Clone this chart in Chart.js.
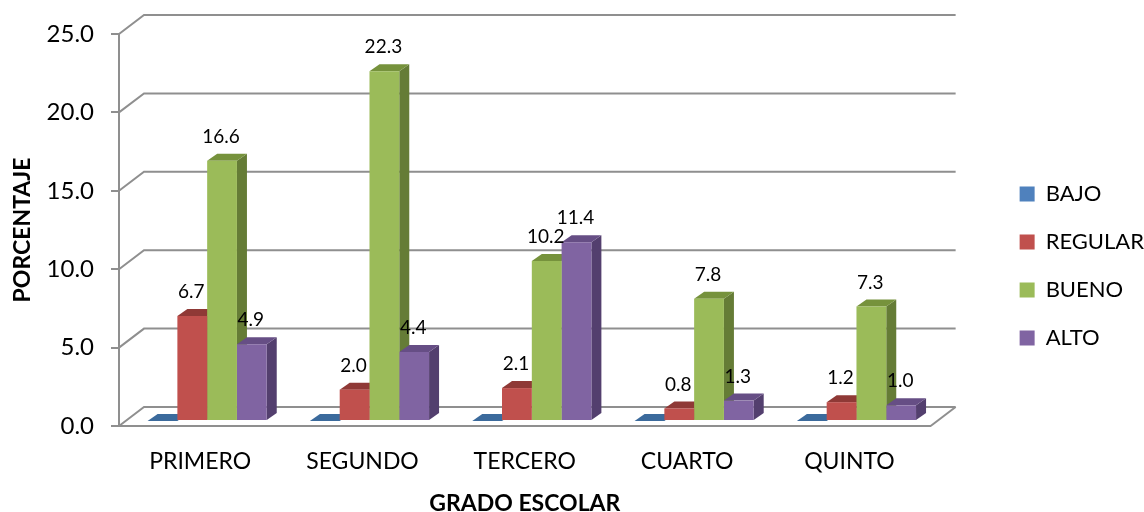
<!DOCTYPE html>
<html>
<head>
<meta charset="utf-8">
<title>Grado escolar</title>
<script src="https://cdn.jsdelivr.net/npm/chart.js@4/dist/chart.umd.js"></script>
<style>
  html, body { margin: 0; background: #fff; }
  canvas { display: block; }
</style>
</head>
<body>
<canvas id="chart" width="1144" height="512"></canvas>
<script>
const categories = ['PRIMERO', 'SEGUNDO', 'TERCERO', 'CUARTO', 'QUINTO'];
const bajo = [0, 0, 0, 0, 0];
const regular = [6.7, 2.0, 2.1, 0.8, 1.2];
const bueno = [16.6, 22.3, 10.2, 7.8, 7.3];
const alto = [4.9, 4.4, 11.4, 1.3, 1.0];

const FONT = 'Lato';
const GRID = '#8f8f8f';

// 3d look of the old office chart: floor depth and bar depth
const DEPTH_X = 25, DEPTH_Y = 19;
const BAR_SHIFT_X = 7, BAR_SHIFT_Y = -5;
const BAR_DX = 10, BAR_DY = 7;

const shades = [
  { top: '#3b6a9c', side: '#335c88' },
  { top: '#8f3936', side: '#7d322f' },
  { top: '#76923c', side: '#657c36' },
  { top: '#664e85', side: '#533f6e' }
];

function poly(ctx, pts, color) {
  ctx.fillStyle = color;
  ctx.beginPath();
  pts.forEach((p, i) => i ? ctx.lineTo(p[0], p[1]) : ctx.moveTo(p[0], p[1]));
  ctx.closePath();
  ctx.fill();
}

const fake3d = {
  id: 'fake3d',
  beforeDatasetsDraw(chart) {
    const { ctx, chartArea: a, scales: { y } } = chart;
    ctx.save();
    ctx.strokeStyle = GRID;
    ctx.lineWidth = 2;
    y.ticks.forEach(t => {
      const py = y.getPixelForValue(t.value);
      ctx.beginPath();
      ctx.moveTo(a.left, py);
      ctx.lineTo(a.left + DEPTH_X, py - DEPTH_Y);
      ctx.lineTo(a.right + DEPTH_X, py - DEPTH_Y);
      ctx.stroke();
    });
    ctx.beginPath();
    ctx.moveTo(a.right, a.bottom);
    ctx.lineTo(a.right + DEPTH_X, a.bottom - DEPTH_Y);
    ctx.stroke();
    ctx.restore();
    ctx.save();
    ctx.translate(BAR_SHIFT_X, BAR_SHIFT_Y);
    // sides and tops left to right, the library paints the fronts over them
    chart.data.datasets.forEach((ds, i) => {
      const c = shades[i];
      chart.getDatasetMeta(i).data.forEach(b => {
        const l = b.x - b.width / 2, r = b.x + b.width / 2;
        poly(ctx, [[r, b.y], [r + BAR_DX, b.y - BAR_DY], [r + BAR_DX, b.base - BAR_DY], [r, b.base]], c.side);
        poly(ctx, [[l, b.y], [l + BAR_DX, b.y - BAR_DY], [r + BAR_DX, b.y - BAR_DY], [r, b.y]], c.top);
      });
    });
  },
  afterDatasetsDraw(chart) {
    const { ctx } = chart;
    ctx.font = '19px ' + FONT;
    ctx.fillStyle = '#000';
    ctx.textAlign = 'center';
    ctx.textBaseline = 'middle';
    chart.data.datasets.forEach((ds, i) => {
      chart.getDatasetMeta(i).data.forEach((b, j) => {
        if (ds.data[j] > 0) ctx.fillText(ds.data[j].toFixed(1), b.x - 1, b.y - 24);
      });
    });
    ctx.restore();
  }
};

new Chart(document.getElementById('chart'), {
  type: 'bar',
  data: {
    labels: categories,
    datasets: [
      { label: 'BAJO', data: bajo, backgroundColor: '#4f81bd' },
      { label: 'REGULAR', data: regular, backgroundColor: '#c0504d' },
      { label: 'BUENO', data: bueno, backgroundColor: '#9bbb59' },
      { label: 'ALTO', data: alto, backgroundColor: '#8064a2' }
    ]
  },
  plugins: [fake3d],
  options: {
    responsive: false,
    animation: false,
    clip: false,
    categoryPercentage: 0.734,
    barPercentage: 1,
    layout: { padding: { top: 34, bottom: 14, right: -10 } },
    plugins: {
      tooltip: { enabled: false },
      legend: {
        position: 'right',
        labels: {
          boxWidth: 15,
          boxHeight: 15,
          padding: 26,
          color: '#000',
          font: { family: FONT, size: 22 }
        }
      }
    },
    scales: {
      x: {
        grid: { display: false },
        border: { color: GRID, width: 2 },
        ticks: { color: '#000', padding: 14, font: { family: FONT, size: 23 } },
        title: {
          display: true,
          text: 'GRADO ESCOLAR',
          color: '#000',
          font: { family: FONT, size: 23, weight: 'bold' },
          padding: { top: 0, bottom: -19 }
        },
        afterFit(s) { s.height = 72; }
      },
      y: {
        min: 0,
        max: 25,
        grid: { drawOnChartArea: false, color: GRID, lineWidth: 2, tickLength: 8 },
        border: { color: GRID, width: 2 },
        ticks: {
          stepSize: 5,
          color: '#000',
          padding: 17,
          font: { family: FONT, size: 24 },
          callback: v => v.toFixed(1)
        },
        title: {
          display: true,
          text: 'PORCENTAJE',
          color: '#000',
          font: { family: FONT, size: 23, weight: 'bold' },
          padding: { top: 9, bottom: 0 }
        },
        afterFit(s) { s.width = 119; }
      },
      // empty axis, only keeps the gap between plot and legend
      gap: {
        position: 'right',
        display: true,
        grid: { display: false },
        border: { display: false },
        ticks: { display: false },
        afterFit(s) { s.width = 63; }
      }
    }
  }
});
</script>
</body>
</html>
